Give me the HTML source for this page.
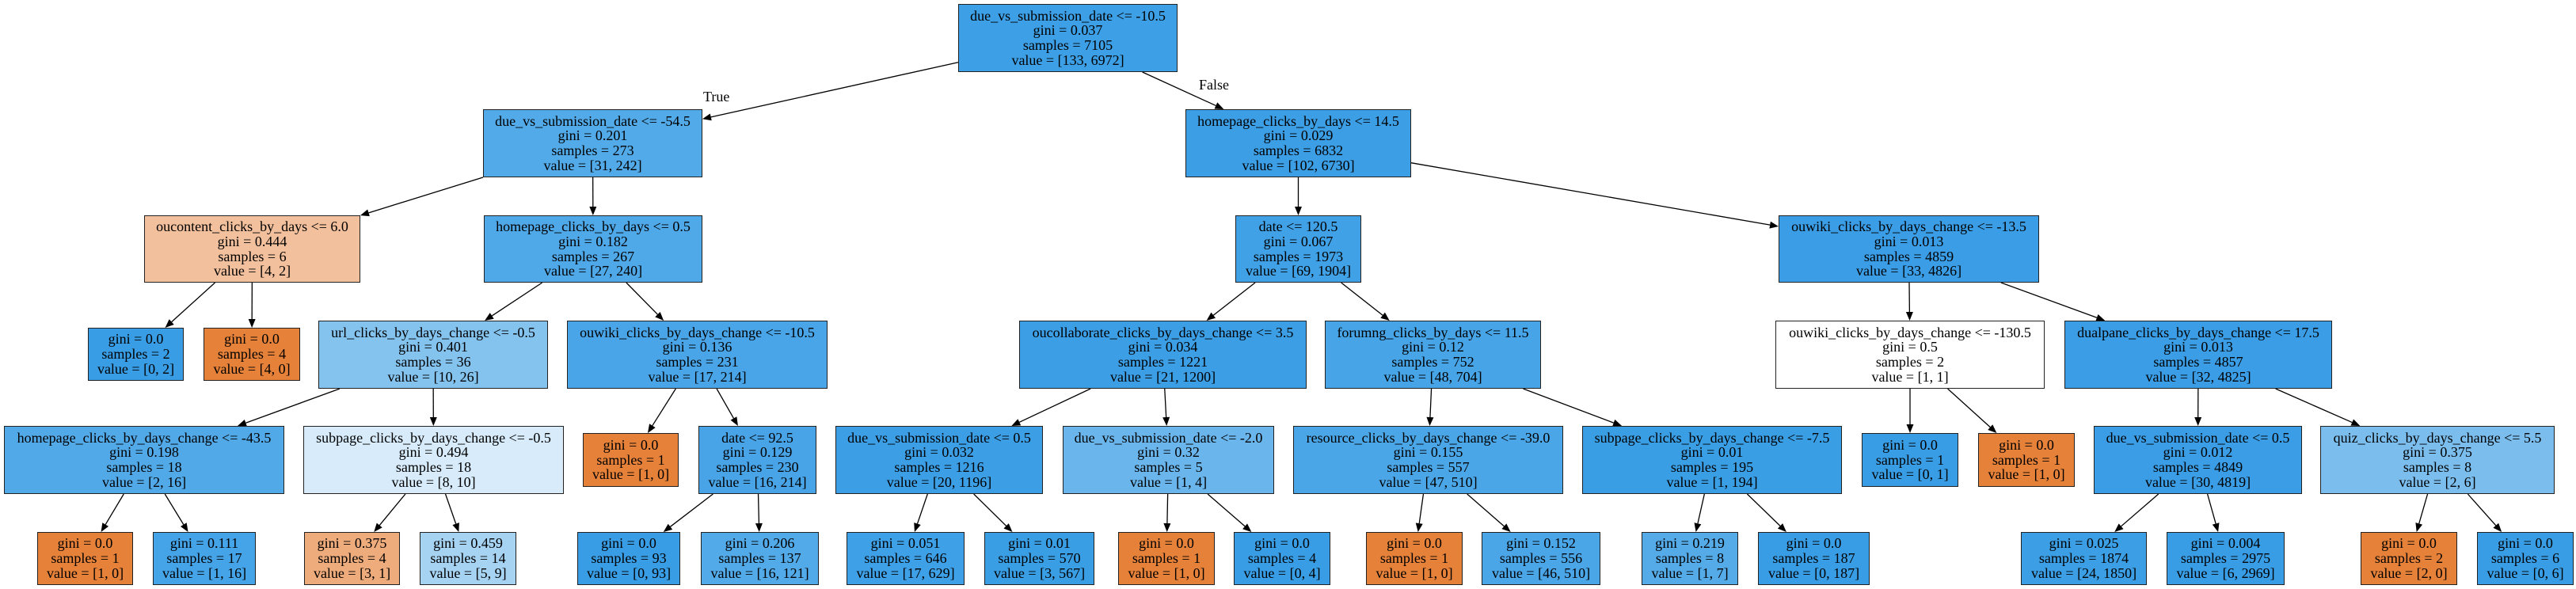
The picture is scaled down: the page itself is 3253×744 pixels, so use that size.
<!DOCTYPE html>
<html><head><meta charset="utf-8">
<style>
html,body{margin:0;padding:0;background:#fff;}
#c{position:relative;width:3253px;height:744px;overflow:hidden;background:#fff;}
.n{position:absolute;box-sizing:border-box;border:1.3px solid #222;display:flex;flex-direction:column;justify-content:center;align-items:center;font-family:"Liberation Serif",serif;font-size:18px;line-height:18.7px;color:#000;white-space:nowrap;}
.lb{position:absolute;font-family:"Liberation Serif",serif;font-size:18px;color:#000;}
svg{position:absolute;left:0;top:0;}
</style></head><body>
<div id="c">
<svg id="s" width="3253" height="744"></svg>
<div class="lb" style="left:888px;top:112px;">True</div>
<div class="lb" style="left:1514px;top:97px;">False</div>
</div>
<script>
var R=[[5,91],[138,224],[272,357],[405,491],[538,624],[672,739]];
var RL=[[0,0],[0,0],[0,0],[414,481],[547,615],[672,739]];
// id, x1, x2, row, leaf, color, lines, parent
var N=[
[0,1210,1487,0,0,'#3d9fe5',['due_vs_submission_date <= -10.5','gini = 0.037','samples = 7105','value = [133, 6972]'],-1],
[1,610,887,1,0,'#52aae8',['due_vs_submission_date <= -54.5','gini = 0.201','samples = 273','value = [31, 242]'],0],
[2,182,455,2,0,'#f2c09c',['oucontent_clicks_by_days <= 6.0','gini = 0.444','samples = 6','value = [4, 2]'],1],
[3,111,232,3,1,'#399de5',['gini = 0.0','samples = 2','value = [0, 2]'],2],
[4,257,379,3,1,'#e58139',['gini = 0.0','samples = 4','value = [4, 0]'],2],
[5,611,887,2,0,'#4fa8e8',['homepage_clicks_by_days <= 0.5','gini = 0.182','samples = 267','value = [27, 240]'],1],
[6,402,692,3,0,'#85c3ef',['url_clicks_by_days_change <= -0.5','gini = 0.401','samples = 36','value = [10, 26]'],5],
[7,5,359,4,0,'#52a9e8',['homepage_clicks_by_days_change <= -43.5','gini = 0.198','samples = 18','value = [2, 16]'],6],
[8,47,168,5,1,'#e58139',['gini = 0.0','samples = 1','value = [1, 0]'],7],
[9,193,323,5,1,'#45a3e7',['gini = 0.111','samples = 17','value = [1, 16]'],7],
[10,383,712,4,0,'#d7ebfa',['subpage_clicks_by_days_change <= -0.5','gini = 0.494','samples = 18','value = [8, 10]'],6],
[11,384,505,5,1,'#eeab7b',['gini = 0.375','samples = 4','value = [3, 1]'],10],
[12,530,652,5,1,'#a7d3f3',['gini = 0.459','samples = 14','value = [5, 9]'],10],
[13,716,1045,3,0,'#49a5e7',['ouwiki_clicks_by_days_change <= -10.5','gini = 0.136','samples = 231','value = [17, 214]'],5],
[14,736,857,4,1,'#e58139',['gini = 0.0','samples = 1','value = [1, 0]'],13],
[15,882,1031,4,0,'#48a4e7',['date <= 92.5','gini = 0.129','samples = 230','value = [16, 214]'],13],
[16,729,859,5,1,'#399de5',['gini = 0.0','samples = 93','value = [0, 93]'],15],
[17,885,1034,5,1,'#53aae8',['gini = 0.206','samples = 137','value = [16, 121]'],15],
[18,1497,1782,1,0,'#3c9ee5',['homepage_clicks_by_days <= 14.5','gini = 0.029','samples = 6832','value = [102, 6730]'],0],
[19,1560,1719,2,0,'#40a1e6',['date <= 120.5','gini = 0.067','samples = 1973','value = [69, 1904]'],18],
[20,1287,1650,3,0,'#3c9ee5',['oucollaborate_clicks_by_days_change <= 3.5','gini = 0.034','samples = 1221','value = [21, 1200]'],19],
[21,1055,1317,4,0,'#3c9ee5',['due_vs_submission_date <= 0.5','gini = 0.032','samples = 1216','value = [20, 1196]'],20],
[22,1069,1218,5,1,'#3ea0e6',['gini = 0.051','samples = 646','value = [17, 629]'],21],
[23,1243,1382,5,1,'#3a9ee5',['gini = 0.01','samples = 570','value = [3, 567]'],21],
[24,1342,1609,4,0,'#6ab5ec',['due_vs_submission_date <= -2.0','gini = 0.32','samples = 5','value = [1, 4]'],20],
[25,1412,1534,5,1,'#e58139',['gini = 0.0','samples = 1','value = [1, 0]'],24],
[26,1558,1680,5,1,'#399de5',['gini = 0.0','samples = 4','value = [0, 4]'],24],
[27,1673,1946,3,0,'#46a4e7',['forumng_clicks_by_days <= 11.5','gini = 0.12','samples = 752','value = [48, 704]'],19],
[28,1633,1974,4,0,'#4ba6e7',['resource_clicks_by_days_change <= -39.0','gini = 0.155','samples = 557','value = [47, 510]'],27],
[29,1725,1847,5,1,'#e58139',['gini = 0.0','samples = 1','value = [1, 0]'],28],
[30,1871,2021,5,1,'#4ba6e8',['gini = 0.152','samples = 556','value = [46, 510]'],28],
[31,1998,2326,4,0,'#3a9ee5',['subpage_clicks_by_days_change <= -7.5','gini = 0.01','samples = 195','value = [1, 194]'],27],
[32,2073,2195,5,1,'#55abe8',['gini = 0.219','samples = 8','value = [1, 7]'],31],
[33,2220,2361,5,1,'#399de5',['gini = 0.0','samples = 187','value = [0, 187]'],31],
[34,2246,2575,2,0,'#3a9de5',['ouwiki_clicks_by_days_change <= -13.5','gini = 0.013','samples = 4859','value = [33, 4826]'],18],
[35,2242,2582,3,0,'#ffffff',['ouwiki_clicks_by_days_change <= -130.5','gini = 0.5','samples = 2','value = [1, 1]'],34],
[36,2351,2473,4,1,'#399de5',['gini = 0.0','samples = 1','value = [0, 1]'],35],
[37,2498,2620,4,1,'#e58139',['gini = 0.0','samples = 1','value = [1, 0]'],35],
[38,2607,2945,3,0,'#3a9de5',['dualpane_clicks_by_days_change <= 17.5','gini = 0.013','samples = 4857','value = [32, 4825]'],34],
[39,2644,2907,4,0,'#3a9de5',['due_vs_submission_date <= 0.5','gini = 0.012','samples = 4849','value = [30, 4819]'],38],
[40,2552,2711,5,1,'#3c9fe5',['gini = 0.025','samples = 1874','value = [24, 1850]'],39],
[41,2736,2885,5,1,'#399de5',['gini = 0.004','samples = 2975','value = [6, 2969]'],39],
[42,2930,3226,4,0,'#7bbeee',['quiz_clicks_by_days_change <= 5.5','gini = 0.375','samples = 8','value = [2, 6]'],38],
[43,2981,3103,5,1,'#e58139',['gini = 0.0','samples = 2','value = [2, 0]'],42],
[44,3128,3250,5,1,'#399de5',['gini = 0.0','samples = 6','value = [0, 6]'],42]
];
var c=document.getElementById('c'),s=document.getElementById('s'),B={};
N.forEach(function(n){
 var y=n[4]?RL[n[3]]:R[n[3]];
 var b={x1:n[1],x2:n[2],y1:y[0],y2:y[1]};b.cx=(b.x1+b.x2)/2;b.cy=(b.y1+b.y2)/2;B[n[0]]=b;
 var d=document.createElement('div');d.className='n';
 d.style.cssText='left:'+b.x1+'px;top:'+b.y1+'px;width:'+(b.x2-b.x1)+'px;height:'+(b.y2-b.y1)+'px;background:'+n[5];
 n[6].forEach(function(t){var e=document.createElement('div');e.textContent=t;d.appendChild(e);});
 c.appendChild(d);
});
function clip(b,dx,dy){var hw=(b.x2-b.x1)/2,hh=(b.y2-b.y1)/2,t=1e9;
 if(dx)t=Math.min(t,hw/Math.abs(dx));if(dy)t=Math.min(t,hh/Math.abs(dy));return [b.cx+dx*t,b.cy+dy*t];}
var NS='http://www.w3.org/2000/svg',h='';
N.forEach(function(n){if(n[7]<0)return;var p=B[n[7]],q=B[n[0]];
 var dx=q.cx-p.cx,dy=q.cy-p.cy;var a=clip(p,dx,dy),e=clip(q,-dx,-dy);
 var L=Math.hypot(e[0]-a[0],e[1]-a[1]),ux=(e[0]-a[0])/L,uy=(e[1]-a[1])/L;
 var bx=e[0]-ux*11,by=e[1]-uy*11;
 h+='<line x1="'+a[0]+'" y1="'+a[1]+'" x2="'+bx+'" y2="'+by+'" stroke="#000" stroke-width="1.3"/>';
 h+='<polygon points="'+e[0]+','+e[1]+' '+(bx-uy*4.5)+','+(by+ux*4.5)+' '+(bx+uy*4.5)+','+(by-ux*4.5)+'" fill="#000"/>';
});
s.innerHTML=h;
</script>
</body></html>
